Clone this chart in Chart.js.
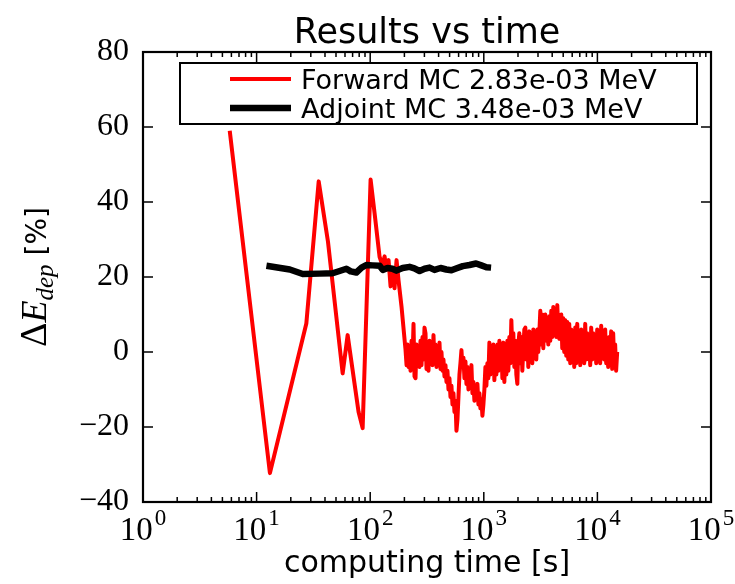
<!DOCTYPE html>
<html>
<head>
  <title>Results vs time</title>
  <script src="https://cdn.jsdelivr.net/npm/chart.js"></script>
  <style>
    body {
      margin: 0;
      background-color: #fff;
    }

    .chart-box {
      position: relative;
      width: 735px;
      height: 584px;
    }
  </style>
</head>
<body>
  <div class="chart-box">
    <canvas id="timeChart"></canvas>
  </div>

  <script>
    // Forward MC: computing time [s] and deviation [%]
    const forwardTime = [
      5.8, 13.1, 27.4, 35.2, 42.5, 57.2, 63.3, 79, 85.8, 100.8,
      109.3, 120.9, 128.5, 133.8, 139.3, 145.1, 151.1, 157.3, 163.8, 170.6,
      177.7, 188.8,
      204.7, 208.9, 213.1, 217.5, 221.9, 226.4, 231.1, 235.8, 240.6, 245.5,
      250.6, 255.7, 260.9, 266.2, 271.7, 277.2, 282.9, 288.7, 294.6, 300.6,
      306.8, 313.1, 319.4, 325.9, 332.7, 339.5, 346.4, 353.5, 360.7, 368.1,
      375.6, 383.3, 391.1, 399.1, 407.3, 415.6, 424.1, 432.8, 441.6, 450.6,
      459.9, 469.3, 478.8, 488.6, 498.6, 508.8, 519.2, 529.8, 540.7, 551.7,
      563.0, 574.5, 586.2, 598.2, 610.5, 622.9, 635.7, 648.7, 661.9, 675.4,
      689.3, 703.4, 717.7, 732.4, 747.4, 762.7, 778.0, 793.9, 810.2, 826.7,
      843.7, 860.9, 878.6, 896.5, 914.8, 933.5, 952.6, 972.0, 991.9, 1012,
      1033, 1054, 1075, 1097, 1120, 1143, 1166, 1190, 1214, 1239,
      1264, 1290, 1317, 1344, 1371, 1399, 1428, 1457, 1487, 1517,
      1548, 1580, 1612, 1645, 1679, 1713, 1748, 1784, 1820, 1857,
      1895, 1934, 1974, 2014, 2055, 2097, 2140, 2184, 2229, 2274,
      2321, 2368, 2416, 2465, 2516, 2567, 2620, 2674, 2729, 2785,
      2841, 2899, 2958, 3018, 3081, 3144, 3208, 3273, 3340, 3408,
      3478, 3549, 3622, 3696, 3772, 3849, 3927, 4007, 4089, 4173,
      4258, 4345, 4434, 4524, 4617, 4711, 4808, 4906, 5006, 5108,
      5212, 5318, 5428, 5539, 5652, 5767, 5885, 6005, 6128, 6253,
      6381, 6511, 6645, 6781, 6920, 7061, 7205, 7352, 7503, 7656,
      7812, 7971, 8135, 8301, 8470, 8643, 8820, 9000, 9185, 9373,
      9565, 9760, 9959, 10160, 10370, 10580, 10800, 11020, 11240, 11470,
      11710, 11950, 12190, 12440, 12690, 12950, 13220, 13490, 13770, 14050,
      14330, 14620, 14930
    ];
    const forwardDelta = [
      59, -32.3, 7.6, 45.5, 29.4, -5.7, 4.5, -16, -20.3, 46,
      37, 25.4, 23, 25.5, 22, 24.5, 17.5, 22, 17, 24.5,
      19, 12,
      0.5, -3.5, 2, -4, 1.5, -5, 3, -2, 7.5, -6.5,
      -7, 2, -3, 1, -4, 3, -3.5, 4, -2, 6.5,
      5, -4.5, 2.5, -5, 3, -1.5, 2, -3.5, 4.5, -3,
      2, -4, 1, -3.5, 2.5, -4.5, 0, -5, -2, -6.5,
      -3.5, -8, -5, -10, -7, -12, -9, -14, -11, -16,
      -13, -21, -18, -12, -6, -3, 0.5, -4, -1.5, -7,
      -2.5, -8.5, -4, -10, -5.5, -9, -3.5, -11, -8, -13,
      -10, -12, -8.5, -14, -11, -15, -12.5, -17, -14, -10,
      -4, -9, -3, -7, 2.5, -6, 1, -4.5, 2, -7.5,
      0.5, -6, 2, -5, 3, -4, 1.5, -7, 2.5, -8,
      1.5, -6, 3, -5, 4, -3, 8.5, 0, 5, -4,
      3, -6, -8.5, 2, 5, -3, 4, -5, 1, 6,
      6.5, -2, 4.5, -4, 5.5, -1, 3, -3, 6, -1.5,
      5, -2, 6, 0, 5, 11, 2, 10, 1, 9,
      10, 3, 8, 2, 9.5, 3, 11, 4, 12, 5,
      11, 4, 12.5, 6, 3.5, 8, 10, 1, 9, 0,
      8.5, -1, 8, -2, 7.5, -3, 6, -1, 5, -4,
      6.5, -3, 7.5, -2, 5, -3.5, 6, -1, 4, -3,
      7.5, -2, 5, -1, 4, -3.5, 6.5, -2, 5, -1,
      4, -3, 6, -2.5, 3, -3, 7, -1.5, 5, -2,
      6, -3, 3, -4, 4, -2.5, 5.5, -4.5, 5, -3,
      2, -5, 0
    ];

    // Adjoint MC
    const adjointTime = [
      12.2, 19.6, 25.5, 35.9, 46.7, 53.8, 61.7, 67.3, 75.5, 84,
      92.4, 105, 121, 129, 142, 157, 170, 193, 222, 245,
      272, 301, 333, 368, 416, 467, 519, 586, 653, 747,
      855, 952, 1054, 1159
    ];
    const adjointDelta = [
      23, 22, 20.8, 20.9, 21, 21.6, 22.2, 21.5, 21.2, 22.5,
      23.2, 23.1, 23, 21.9, 22.4, 22.2, 21.7, 22.4, 22.7, 22.3,
      21.6, 22.2, 22.5, 21.9, 22.4, 22, 21.8, 22.4, 22.9, 23.2,
      23.6, 23.1, 22.6, 22.5
    ];

    const seriesLabels = ['Forward MC 2.83e-03 MeV', 'Adjoint MC 3.48e-03 MeV'];
    const seriesColors = ['#ff0000', '#000000'];
    const yTicks = [-40, -20, 0, 20, 40, 60, 80];
    const xDecades = [1, 10, 100, 1000, 10000, 100000];
    const xExponents = ['0', '1', '2', '3', '4', '5'];

    const toPoints = (xs, ys) => xs.map((v, i) => ({ x: v, y: ys[i] }));

    // frame, inward ticks, legend and the texts matplotlib style
    const mplDecor = {
      id: 'mplDecor',
      afterDatasetsDraw(chart) {
        const { ctx, chartArea: a, scales: { x, y } } = chart;
        ctx.save();

        // ticks pointing inside, on all four sides
        ctx.strokeStyle = '#000';
        ctx.lineWidth = 1.5;
        ctx.beginPath();
        xDecades.forEach((d, i) => {
          const px = x.getPixelForValue(d);
          ctx.moveTo(px, a.bottom); ctx.lineTo(px, a.bottom - 10);
          ctx.moveTo(px, a.top); ctx.lineTo(px, a.top + 10);
          if (i < xDecades.length - 1) {
            for (let m = 2; m < 10; m++) {
              const pm = x.getPixelForValue(m * d);
              ctx.moveTo(pm, a.bottom); ctx.lineTo(pm, a.bottom - 5);
              ctx.moveTo(pm, a.top); ctx.lineTo(pm, a.top + 5);
            }
          }
        });
        yTicks.forEach(v => {
          const py = y.getPixelForValue(v);
          ctx.moveTo(a.left, py); ctx.lineTo(a.left + 10, py);
          ctx.moveTo(a.right, py); ctx.lineTo(a.right - 10, py);
        });
        ctx.stroke();

        ctx.lineWidth = 2.2;
        ctx.strokeRect(a.left, a.top, a.right - a.left, a.bottom - a.top);

        // legend box
        const lx = a.left + 37, ly = a.top + 11;
        const lw = a.right - 14 - lx, lh = 61;
        ctx.fillStyle = '#fff';
        ctx.fillRect(lx, ly, lw, lh);
        ctx.lineWidth = 2;
        ctx.strokeRect(lx, ly, lw, lh);
        ctx.font = '27px "DejaVu Sans"';
        ctx.textBaseline = 'alphabetic';
        ctx.textAlign = 'left';
        seriesLabels.forEach((label, i) => {
          const rowY = ly + 16 + i * 29;
          ctx.strokeStyle = seriesColors[i];
          ctx.lineWidth = i === 0 ? 4 : 6.5;
          ctx.beginPath();
          ctx.moveTo(lx + 50, rowY);
          ctx.lineTo(lx + 111, rowY);
          ctx.stroke();
          ctx.fillStyle = '#000';
          ctx.fillText(label, lx + 121, rowY + 10);
        });

        // x tick labels 10^n
        ctx.fillStyle = '#000';
        xDecades.forEach((d, i) => {
          const px = x.getPixelForValue(d);
          ctx.font = '33px "Liberation Serif"';
          const wb = ctx.measureText('10').width;
          ctx.font = '23px "Liberation Serif"';
          const we = ctx.measureText(xExponents[i]).width;
          const left = px - (wb + 2 + we) / 2;
          ctx.font = '33px "Liberation Serif"';
          ctx.fillText('10', left, a.bottom + 38);
          ctx.font = '23px "Liberation Serif"';
          ctx.fillText(xExponents[i], left + wb + 2, a.bottom + 23);
        });

        // title and x label
        const cx = (a.left + a.right) / 2;
        ctx.textAlign = 'center';
        ctx.font = '35px "DejaVu Sans"';
        ctx.fillText('Results vs time', cx, 43);
        ctx.font = '30px "DejaVu Sans"';
        ctx.fillText('computing time [s]', cx, 572);

        // y label: Delta E_dep [%]
        const parts = [
          { t: '\u0394', f: '38px "Liberation Serif"', dy: 0 },
          { t: 'E', f: 'italic 36px "Liberation Serif"', dy: 0 },
          { t: 'dep', f: 'italic 25px "Liberation Serif"', dy: 7 },
          { t: ' [%]', f: '28px "DejaVu Sans"', dy: 0 }
        ];
        let total = 0;
        parts.forEach(p => { ctx.font = p.f; p.w = ctx.measureText(p.t).width; total += p.w; });
        ctx.translate(46, (a.top + a.bottom) / 2);
        ctx.rotate(-Math.PI / 2);
        ctx.textAlign = 'left';
        let pos = -total / 2;
        parts.forEach(p => {
          ctx.font = p.f;
          ctx.fillText(p.t, pos, p.dy);
          pos += p.w;
        });

        ctx.restore();
      }
    };

    const ctx = document.getElementById('timeChart').getContext('2d');
    new Chart(ctx, {
      type: 'line',
      data: {
        datasets: [
          {
            label: seriesLabels[0],
            data: toPoints(forwardTime, forwardDelta),
            borderColor: seriesColors[0],
            borderWidth: 4,
            borderJoinStyle: 'round',
            pointRadius: 0,
            tension: 0,
            order: 2
          },
          {
            label: seriesLabels[1],
            data: toPoints(adjointTime, adjointDelta),
            borderColor: seriesColors[1],
            borderWidth: 6.5,
            borderJoinStyle: 'round',
            pointRadius: 0,
            tension: 0,
            order: 1
          }
        ]
      },
      options: {
        responsive: true,
        maintainAspectRatio: false,
        animation: false,
        layout: { padding: { top: 52, right: 24, left: 0, bottom: 0 } },
        scales: {
          x: {
            type: 'logarithmic',
            min: 1,
            max: 100000,
            grid: { display: false },
            border: { display: false },
            ticks: { display: false },
            afterBuildTicks: s => { s.ticks = xDecades.map(v => ({ value: v })); },
            afterFit: s => { s.height = 82; }
          },
          y: {
            min: -40,
            max: 80,
            grid: { display: false, drawTicks: false },
            border: { display: false },
            ticks: {
              padding: 14,
              color: '#000',
              font: { family: 'Liberation Serif', size: 32 },
              callback: v => String(v).replace('-', '\u2212')
            },
            afterBuildTicks: s => { s.ticks = yTicks.map(v => ({ value: v })); },
            afterFit: s => { s.width = 143; }
          }
        },
        plugins: {
          legend: { display: false },
          tooltip: { enabled: false }
        }
      },
      plugins: [mplDecor]
    });
  </script>
</body>
</html>
